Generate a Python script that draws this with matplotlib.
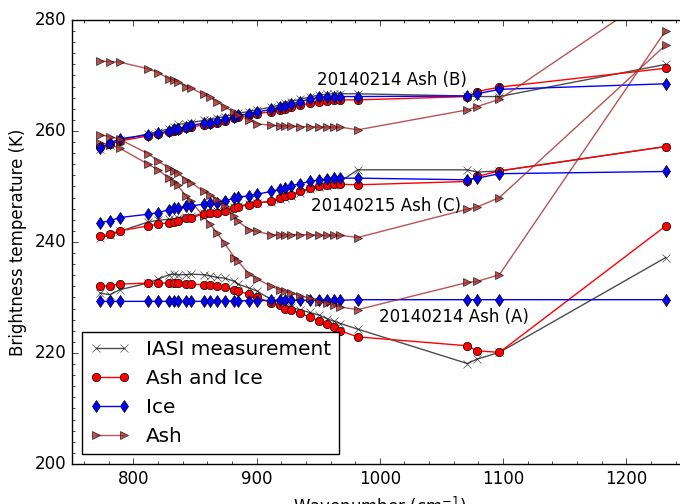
import numpy as np
import matplotlib
matplotlib.use("Agg")
from matplotlib import pyplot as plt
from matplotlib.ticker import MultipleLocator

plt.style.use("classic")
plt.rcParams["mathtext.fontset"] = "dejavusans"

# IASI window channels (cm-1)
wn = [773, 781, 789, 812, 820, 829, 833, 836, 843, 847, 857, 862, 868, 874, 882, 885,
      894, 900, 912, 919, 923, 928, 935, 943, 951, 957, 963, 968, 982, 1071, 1079, 1097, 1232]

# 20140214 Ash (A)
iasi_a = [230.8, 230.5, 231.4, 232.6, 233.3, 234.1, 234.2, 234.1, 234.1, 234.2, 234.1, 233.9,
          233.6, 233.5, 232.9, 232.4, 231.7, 231.2, 229.6, 229.0, 228.6, 228.2, 227.8, 227.3,
          226.8, 226.2, 225.7, 225.3, 224.3, 218.1, 218.9, 220.1, 237.2]
ashice_a = [232.0, 232.1, 232.4, 232.6, 232.6, 232.6, 232.6, 232.6, 232.4, 232.4, 232.3, 232.3,
            232.1, 231.8, 231.4, 231.1, 230.6, 230.1, 229.0, 228.6, 228.0, 227.7, 227.2, 226.5,
            225.8, 225.2, 224.6, 224.0, 222.9, 221.3, 220.4, 220.1, 242.9]
ice_a = [229.3, 229.3, 229.3, 229.3, 229.3, 229.3, 229.3, 229.3, 229.3, 229.3, 229.3, 229.3,
         229.3, 229.3, 229.4, 229.4, 229.4, 229.4, 229.5, 229.5, 229.5, 229.5, 229.5, 229.5,
         229.5, 229.5, 229.5, 229.5, 229.6, 229.6, 229.6, 229.6, 229.6]
ash_a = [257.9, 257.5, 256.9, 254.0, 253.0, 251.5, 250.8, 250.2, 248.2, 247.3, 244.6, 243.3,
         241.6, 239.8, 237.2, 236.5, 234.2, 233.4, 232.0, 231.4, 231.1, 230.8, 230.3, 229.9,
         229.2, 229.0, 228.6, 228.3, 227.8, 232.7, 232.9, 234.1, 278.1]

# 20140214 Ash (B)
iasi_b = [256.7, 257.5, 258.3, 259.5, 259.9, 260.4, 260.7, 261.2, 261.3, 261.5, 261.9, 262.0,
          262.3, 262.6, 263.0, 263.2, 263.5, 263.8, 264.3, 264.7, 265.0, 265.3, 265.7, 266.1,
          266.5, 266.6, 266.7, 266.7, 266.7, 266.3, 266.2, 266.2, 272.0]
ashice_b = [257.2, 257.6, 258.2, 259.1, 259.4, 259.8, 260.0, 260.1, 260.5, 260.7, 261.1, 261.2,
            261.5, 261.8, 262.3, 262.5, 262.8, 263.1, 263.5, 263.8, 264.0, 264.3, 264.6, 265.0,
            265.3, 265.4, 265.6, 265.6, 265.6, 266.2, 267.1, 267.9, 271.3]
ice_b = [256.9, 257.8, 258.6, 259.3, 259.6, 260.0, 260.3, 260.3, 260.8, 261.0, 261.4, 261.5,
         261.8, 262.1, 262.6, 262.8, 263.1, 263.4, 263.9, 264.3, 264.5, 264.8, 265.3, 265.7,
         266.1, 266.1, 266.2, 266.2, 266.2, 266.3, 266.7, 267.5, 268.5]
ash_b = [272.6, 272.5, 272.4, 271.2, 270.5, 269.4, 269.1, 268.8, 268.0, 267.7, 266.6, 266.1,
         265.3, 264.3, 263.4, 262.9, 261.9, 261.3, 261.0, 260.9, 260.9, 260.9, 260.8, 260.8,
         260.7, 260.7, 260.7, 260.7, 260.2, 263.8, 264.4, 265.7, 286.0]

# 20140215 Ash (C)
iasi_c = [240.8, 241.2, 241.9, 243.6, 243.9, 244.1, 244.2, 244.4, 244.5, 244.6, 245.2, 245.4,
          245.5, 245.8, 246.3, 246.5, 246.8, 247.1, 247.2, 247.7, 248.0, 248.3, 248.9, 249.5,
          249.9, 250.1, 250.3, 250.9, 253.0, 253.0, 252.6, 252.8, 257.2]
ashice_c = [241.1, 241.4, 242.0, 242.9, 243.2, 243.5, 243.6, 243.8, 244.3, 244.4, 245.0, 245.2,
            245.3, 245.6, 246.1, 246.3, 246.7, 247.0, 247.4, 247.9, 248.2, 248.5, 249.1, 249.7,
            250.1, 250.3, 250.4, 250.4, 250.3, 250.9, 251.8, 252.8, 257.2]
ice_c = [243.5, 243.8, 244.4, 245.0, 245.3, 245.8, 246.1, 246.1, 246.4, 246.5, 246.8, 247.0,
         247.1, 247.4, 247.9, 248.1, 248.3, 248.6, 249.1, 249.5, 249.7, 250.1, 250.5, 250.9,
         251.2, 251.3, 251.5, 251.5, 251.5, 251.2, 251.5, 252.3, 252.7]
ash_c = [259.3, 259.0, 258.5, 255.9, 254.6, 253.3, 252.7, 252.4, 251.2, 250.7, 249.1, 248.5,
         247.6, 246.4, 244.6, 243.7, 242.2, 241.9, 241.3, 241.3, 241.3, 241.3, 241.3, 241.3,
         241.2, 241.2, 241.2, 241.2, 240.8, 245.9, 246.3, 248.0, 275.5]

cases = [(iasi_a, ashice_a, ice_a, ash_a),
         (iasi_b, ashice_b, ice_b, ash_b),
         (iasi_c, ashice_c, ice_c, ash_c)]

fig = plt.figure(figsize=(6.8, 5.04), dpi=100, facecolor='white')
ax = fig.add_axes([0.1054, 0.0794, 0.9063, 0.8810])

for i, (iasi, ashice, ice, ash) in enumerate(cases):
    ax.plot(wn, iasi, 'k-x', alpha=0.7, label='IASI measurement' if i == 0 else None)
    ax.plot(wn, ashice, 'r-o', label='Ash and Ice' if i == 0 else None)
    ax.plot(wn, ice, 'b-d', label='Ice' if i == 0 else None)
    ax.plot(wn, ash, '->', color='brown', alpha=0.8, label='Ash' if i == 0 else None)

ax.text(1010, 269.2, '20140214 Ash (B)', ha='center', va='center', fontsize=12)
ax.text(1005, 246.4, '20140215 Ash (C)', ha='center', va='center', fontsize=12)
ax.text(1060, 226.5, '20140214 Ash (A)', ha='center', va='center', fontsize=12)

ax.set_xlim(750, 1250)
ax.set_ylim(200, 280)
ax.set_xticks([800, 900, 1000, 1100, 1200])
ax.set_yticks([200, 220, 240, 260, 280])
ax.xaxis.set_minor_locator(MultipleLocator(20))
ax.yaxis.set_minor_locator(MultipleLocator(2))
ax.set_xlabel('Wavenumber (cm$^{-1}$)')
ax.set_ylabel('Brightness temperature (K)')
ax.legend(loc='lower left')

fig.savefig('out.png', dpi=100, facecolor='white')
